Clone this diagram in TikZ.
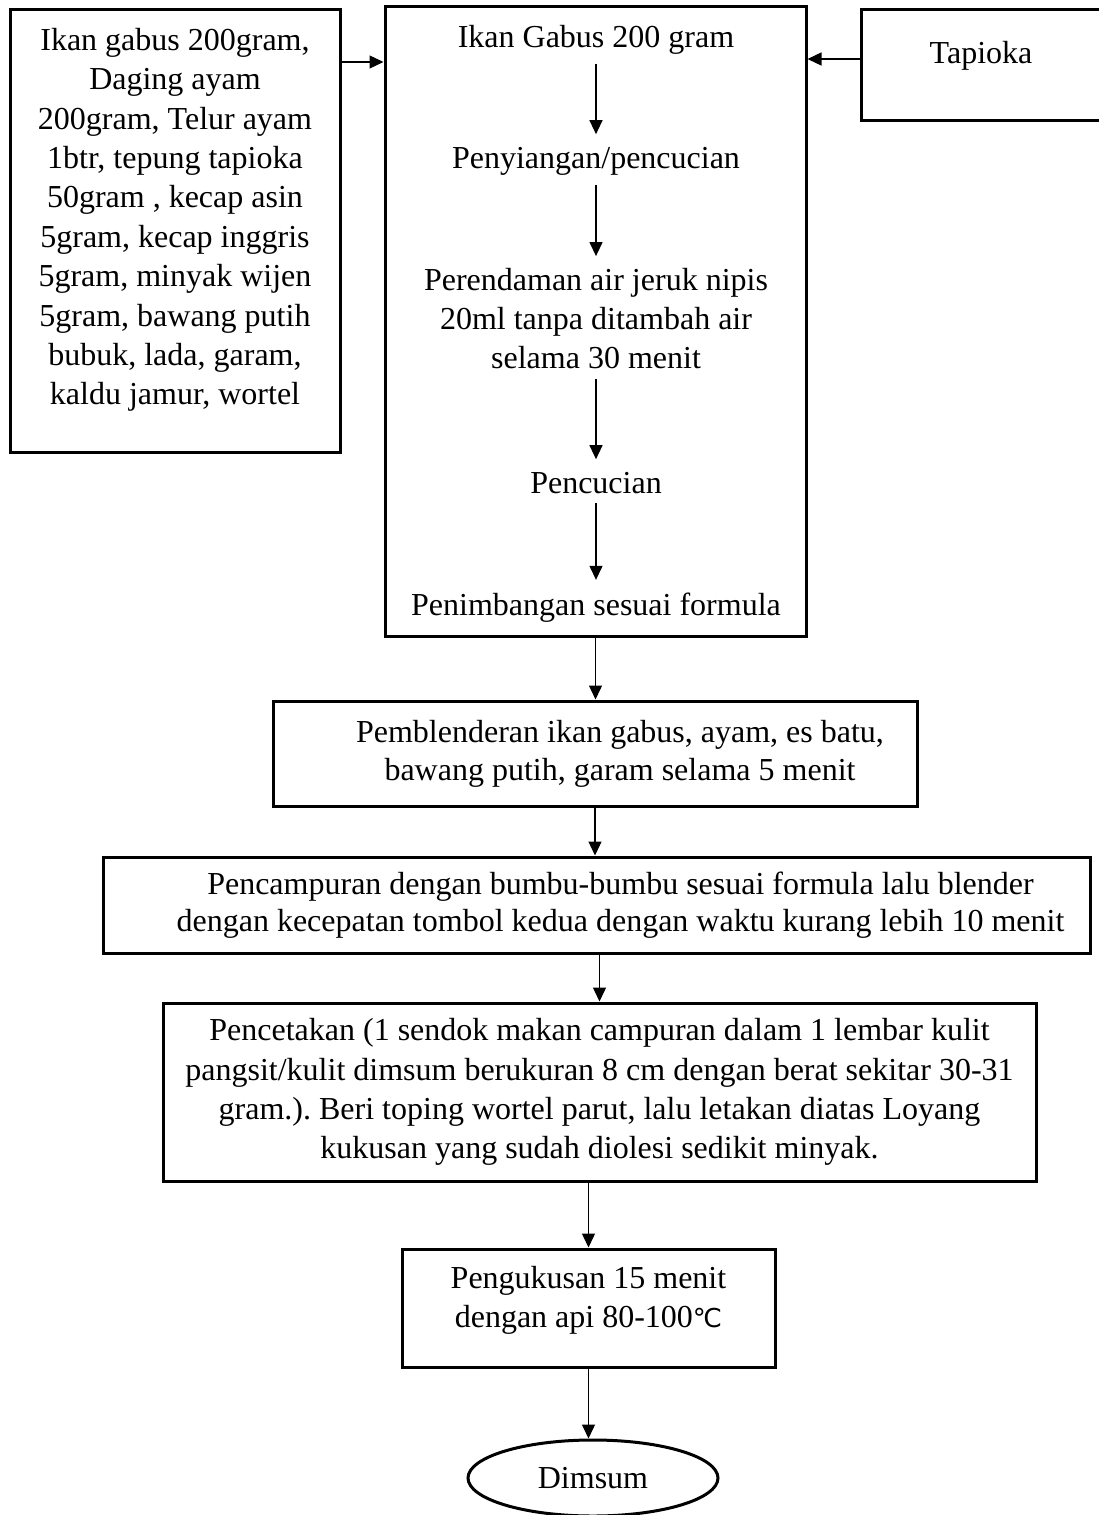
\documentclass[tikz,border=0pt]{standalone}
\usepackage{fontspec}
\setmainfont{Liberation Serif}
\newfontfamily\simbolfont{DejaVu Sans}
\usepackage{tikz}
\usetikzlibrary{arrows.meta}
\usetikzlibrary{shapes.geometric}
\frenchspacing

\begin{document}
\begin{tikzpicture}[
	x=1pt, y=-1pt,
	font=\fontsize{32}{39}\selectfont,
	line width=1.3pt
]
\tikzset{
    boxnode/.style = {rectangle, draw=black, line width=3pt, align=center, inner sep=0pt},
		textnode/.style = {align=center, inner sep=0pt},
		endnode/.style = {ellipse, draw=black, line width=3pt, inner sep=0pt, minimum width=250pt, minimum height=76pt},
		arrowstyle/.style = {-{Triangle[length=14pt,width=13pt]}, line width=1.3pt},
		innerarrow/.style = {arrowstyle, shorten <=9pt, shorten >=12pt}
}
\useasboundingbox (0,0) rectangle (1099,1515);
\coordinate (garisKiri) at (0,62);
\coordinate (garisKanan) at (0,59);

\node[boxnode, minimum width=330pt, minimum height=443pt, font=\fontsize{32}{39.4}\selectfont] (bahan) at (175,230.5)
	{Ikan gabus 200gram,\\ Daging ayam\\ 200gram, Telur ayam\\ 1btr, tepung tapioka\\ 50gram , kecap asin\\ 5gram, kecap inggris\\ 5gram, minyak wijen\\ 5gram, bawang putih\\ bubuk, lada, garam,\\ kaldu jamur, wortel\rule[-28pt]{0pt}{1pt}};
\node[boxnode, minimum width=240pt, minimum height=111pt] (tapioka) at (981,64.5) {Tapioka\rule[-25pt]{0pt}{1pt}};

\node[boxnode, minimum width=421pt, minimum height=630pt] (utama) at (595.5,321) {};
\node[textnode, anchor=base] (ikan) at (596,47) {Ikan Gabus 200 gram};
\node[textnode, anchor=base] (siang) at (596,168) {Penyiangan/pencucian};
\node[textnode] (rendam) at (596,319) {Perendaman air jeruk nipis\\ 20ml tanpa ditambah air\\ selama 30 menit};
\node[textnode, anchor=base] (cuci) at (596,493) {Pencucian};
\node[textnode, anchor=base] (timbang) at (596,615) {Penimbangan sesuai formula};

\node[boxnode, minimum width=644pt, minimum height=105pt, font=\fontsize{32}{38}\selectfont] (blender) at (595,753.5)
	{\hspace*{50pt}Pemblenderan ikan gabus, ayam, es batu,\\ \hspace*{50pt}bawang putih, garam selama 5 menit};
\node[boxnode, minimum width=987pt, minimum height=96pt, font=\fontsize{32}{37}\selectfont] (campur) at (596.5,905)
	{\hspace*{48pt}Pencampuran dengan bumbu-bumbu sesuai formula lalu blender\\ \hspace*{48pt}dengan kecepatan tombol kedua dengan waktu kurang lebih 10 menit};
\node[boxnode, minimum width=873pt, minimum height=178pt, font=\fontsize{32}{39.3}\selectfont] (cetak) at (599.5,1092)
	{Pencetakan (1 sendok makan campuran dalam 1 lembar kulit\\ pangsit/kulit dimsum berukuran 8 cm dengan berat sekitar 30-31\\ gram.). Beri toping wortel parut, lalu letakan diatas Loyang\\ kukusan yang sudah diolesi sedikit minyak.};
\node[boxnode, minimum width=373pt, minimum height=118pt] (kukus) at (588.5,1308)
	{Pengukusan 15 menit\\ dengan api 80-100{\simbolfont\fontsize{26}{39}\selectfont ℃}\rule[-23pt]{0pt}{1pt}};
\node[endnode] (dimsum) at (593,1478) {Dimsum};

\draw[arrowstyle] (bahan.east |- garisKiri) -- (utama.west |- garisKiri);
\draw[arrowstyle] (tapioka.west |- garisKanan) -- (utama.east |- garisKanan);
\draw[innerarrow] (ikan) -- (siang);
\draw[innerarrow] (siang) -- (rendam);
\draw[innerarrow] (rendam) -- (cuci);
\draw[innerarrow] (cuci) -- (timbang);
\draw[arrowstyle] (utama.south) -- (utama.south |- blender.north);
\draw[arrowstyle] (blender.south) -- (blender.south |- campur.north);
\draw[arrowstyle] (campur.south -| cetak.north) -- (cetak.north);
\draw[arrowstyle] (cetak.south -| kukus.north) -- (kukus.north);
\draw[arrowstyle] (kukus.south) -- (kukus.south |- dimsum.north);
\end{tikzpicture}
\end{document}
